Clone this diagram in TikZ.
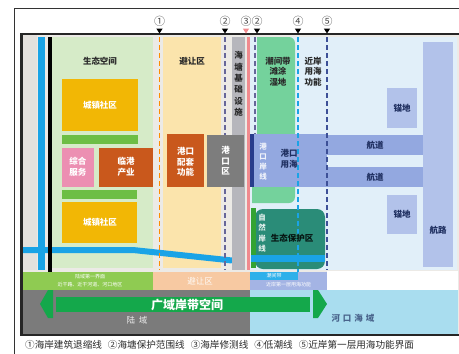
\documentclass[tikz,border=0pt]{standalone}
\usepackage{fontspec}
\newfontfamily\cjk{Noto Sans CJK SC}
\definecolor{bgc}{HTML}{ECEAE6}
\definecolor{stripc}{HTML}{E4E1DD}
\definecolor{roadc}{HTML}{1AA3E6}
\definecolor{ecoc}{HTML}{D6EBC8}
\definecolor{goldc}{HTML}{F2B705}
\definecolor{midgreenc}{HTML}{6DBE45}
\definecolor{pinkc}{HTML}{EC8FB2}
\definecolor{orangec}{HTML}{C9581C}
\definecolor{yellowc}{HTML}{FBE4AC}
\definecolor{wallc}{HTML}{B6B6BC}
\definecolor{redlinec}{HTML}{F08A8E}
\definecolor{portgrayc}{HTML}{7D7D7D}
\definecolor{tidalc}{HTML}{74D29C}
\definecolor{peric}{HTML}{93A8E0}
\definecolor{navyc}{HTML}{283C8C}
\definecolor{tealc}{HTML}{2A8C78}
\definecolor{seac}{HTML}{E1EFF9}
\definecolor{routec}{HTML}{B2C2EA}
\definecolor{landbandc}{HTML}{8FCB52}
\definecolor{peachc}{HTML}{F7C9A2}
\definecolor{tidebarc}{HTML}{2EB0EA}
\definecolor{peribarc}{HTML}{A4B4E4}
\definecolor{landc}{HTML}{7B7B7B}
\definecolor{riverc}{HTML}{A9DDEF}
\definecolor{arrowc}{HTML}{14A84B}
\definecolor{textc}{HTML}{2A2A2A}
\definecolor{navytextc}{HTML}{1F2F60}
\tikzset{
  lbl/.style={font=\cjk\bfseries\fontsize{8.5}{10.6}\selectfont, align=center, inner sep=0pt, text=textc},
  wlbl/.style={lbl, text=white},
  nlbl/.style={lbl, text=navytextc},
  tiny/.style={font=\cjk\fontsize{5}{6}\selectfont, align=center, inner sep=0pt, text=white},
  dline/.style={line width=1.6pt, dash pattern=on 5pt off 3pt},
  marker/.style={font=\cjk\fontsize{11}{12}\selectfont, inner sep=0pt, text=black!70},
}
\begin{document}
\begin{tikzpicture}[x=1pt,y=-1pt]
\useasboundingbox (0,0) rectangle (459,354);
% outer thin frame
\draw[line width=0.7pt, black!80] (14,354) -- (14,8) -- (460,8);
% main background
\fill[bgc] (22,35) rectangle (459,334);
\fill[stripc] (22,35) rectangle (37,270);
% left eco space
\fill[ecoc] (52,37) rectangle (153,268);
% avoidance zone
\fill[yellowc] (163,37) rectangle (221,268);
% sea area
\fill[seac] (250,37) rectangle (457,270);
% tidal flat
\fill[tidalc] (257,37) [rounded corners=6pt] -- (295,37) -- (295,203) [sharp corners] -- (252,203) -- (252,187) -- (257,187) -- cycle;
% route and anchorages
\fill[routec] (423,42) rectangle (453,267);
\fill[routec] (387,88) rectangle (417,128);
\fill[routec] (387,195) rectangle (417,234);
% channels and port sea use
\fill[peric] (327,135) rectangle (423,155);
\fill[peric] (327,167) rectangle (423,187);
\fill[peric] (250,134) rectangle (327,187);
\fill[navyc] (250,134) rectangle (253.5,187);
% eco protection zone
\fill[tealc, rounded corners=8pt] (255,209) rectangle (325,269);
\fill[green!55!black!80] (251,208) rectangle (256,268);
% left boxes
\fill[goldc] (62,79) rectangle (138,131);
\fill[midgreenc] (62,135) rectangle (138,144);
\fill[pinkc] (62,148) rectangle (94,187);
\fill[orangec] (99,148) rectangle (153,187);
\fill[midgreenc] (62,190) rectangle (137,199);
\fill[goldc] (62,202) rectangle (137,243);
\fill[orangec] (167,134) rectangle (204,187);
% road
\draw[roadc, line width=6pt] (23,250) -- (133,250) -- (232,260.5);
\draw[roadc, line width=6.5pt] (251,258.5) -- (325,258.5);
% verticals at the left
\fill[roadc] (38,37) rectangle (45,270);
\fill[black] (48,37) rectangle (51.5,272);
% sea wall column and lines
\fill[wallc] (232,37) rectangle (245,270);
\fill[redlinec] (246.5,37) rectangle (249.5,270);
% dashed lines
\draw[dline, color=orange!90!yellow] (159.5,37) -- (159.5,270);
\draw[dline, color=gray!80!blue] (225,37) -- (225,270);
\draw[dline, color=gray!80!blue] (255,37) -- (255,134);
\draw[dline, color=roadc] (298,37) -- (298,280);
\draw[dline, color=navyc!90] (327,37) -- (327,270);
% port area box (on top of line 2)
\fill[portgrayc] (207,135) rectangle (244,187);
% bottom bands
\fill[landbandc] (22,272) rectangle (153,290);
\fill[peachc] (153,272) rectangle (250,290);
\fill[tidebarc] (250,272) rectangle (298,280);
\fill[peribarc] (298,272) rectangle (327,280);
\fill[peribarc] (250,280) rectangle (327,290);
\fill[white] (327,270.5) rectangle (458,290);
\fill[landc] (22,290) rectangle (250,334);
\fill[riverc] (250,290) rectangle (458,334);
% arrow
\fill[arrowc] (56,297) rectangle (310,312);
\fill[arrowc] (40,304) -- (48,290) -- (53,290) -- (53,318) -- (48,318) -- cycle;
\fill[arrowc] (313,290) -- (318,290) -- (327,304) -- (318,318) -- (313,318) -- cycle;
% thick main border
\draw[line width=2.2pt, black!85] (461,34) -- (21.5,34) -- (21.5,335) -- (461,335);
% top markers
\foreach \x/\n/\c in {159.5/①/black, 225/②/black, 246/③/redlinec, 257/②/black, 298/④/black, 327/⑤/black}{
  \node[marker] (m\x) at (\x,21) {\n};
  \fill[\c] (\x-3.2,28.5) -- (\x+3.2,28.5) -- (\x,33.5) -- cycle;
}
% labels
\node[lbl] (eco) at (100,61) {生态空间};
\node[wlbl] (town1) at (100,105) {城镇社区};
\node[wlbl] (serv) at (78,167) {综合\\服务};
\node[wlbl] (ind) at (126,167) {临港\\产业};
\node[wlbl] (town2) at (100,222) {城镇社区};
\node[lbl] (avoid) at (192,61) {避让区};
\node[lbl, font=\cjk\bfseries\fontsize{8.5}{11.4}\selectfont] (wall) at (238.5,84) {海\\塘\\基\\础\\设\\施};
\node[lbl] (tidal) at (278,71.5) {潮间带\\滩涂\\湿地};
\node[lbl] (near) at (313,71.5) {近岸\\用海\\功能};
\node[wlbl] (portsup) at (185.5,162) {港口\\配套\\功能};
\node[wlbl] (portzone) at (225.5,161) {港\\口\\区};
\node[wlbl, font=\cjk\bfseries\fontsize{7.5}{10}\selectfont, text=white!85!peric] (portshore) at (263,162) {港\\口\\岸\\线};
\node[nlbl] (portsea) at (289,159) {港口\\用海};
\node[wlbl, font=\cjk\bfseries\fontsize{7.5}{10.4}\selectfont, text=white!85!tealc] (natshore) at (262,233) {自\\然\\岸\\线};
\node[lbl, text=black!85!tealc, fill=tealc] (ecopro) at (292,238) {生态保护区};
\node[nlbl] (anc1) at (402,108) {锚地};
\node[nlbl] (ch1) at (375,145) {航道};
\node[nlbl] (ch2) at (375,177) {航道};
\node[nlbl] (anc2) at (402,214.5) {锚地};
\node[nlbl] (route) at (438,230) {航路};
\node[tiny] (landface) at (90,276.5) {陆域第一界面};
\node[tiny] (landlist) at (90,285) {近干路、近干河道、河口地区};
\node[wlbl, font=\cjk\fontsize{8.5}{10}\selectfont, text=white!90!peachc] (avoidband) at (200,281) {避让区};
\node[tiny] (tideband) at (274,276) {潮间带};
\node[tiny] (nearband) at (288.5,285) {近岸第一层用海功能};
\node[wlbl, font=\cjk\bfseries\fontsize{12}{14}\selectfont] (wide) at (187,304.5) {广域岸带空间};
\node[wlbl, font=\cjk\fontsize{8.5}{10}\selectfont, text=white!85!landc] (land) at (137,320) {陆\hspace{4pt}域};
\node[lbl, font=\cjk\bfseries\fontsize{8.5}{10}\selectfont, text=navytextc!70!riverc] (river) at (353,318) {河\hspace{3pt}口\hspace{3pt}海\hspace{3pt}域};
% legend
\node[lbl, font=\cjk\fontsize{9.6}{10}\selectfont, anchor=west, text=textc] (legend) at (25,344.5)
  {①海岸建筑退缩线\hspace{6pt}②海塘保护范围线\hspace{6pt}③海岸修测线\hspace{6pt}④低潮线\hspace{6pt}⑤近岸第一层用海功能界面};
\end{tikzpicture}
\end{document}
